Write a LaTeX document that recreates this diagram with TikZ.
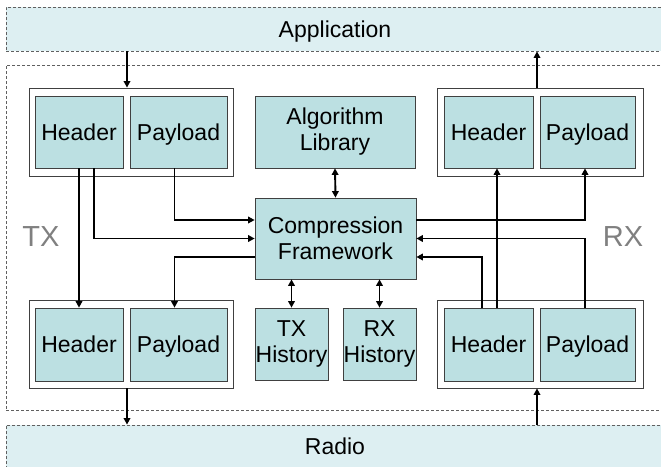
\documentclass[tikz,border=0pt]{standalone}
\usepackage{fontspec}
\setmainfont{Liberation Sans}
\usetikzlibrary{arrows.meta,calc}
\definecolor{boxfill}{HTML}{BCE0E2}
\definecolor{barfill}{HTML}{DDEFF2}
\definecolor{edgecol}{HTML}{404040}
\definecolor{dashcol}{HTML}{606060}
\definecolor{lblcol}{HTML}{808080}
\newcommand{\nodp}[1]{\raisebox{0pt}[\height][0pt]{#1}}
\begin{document}
\begin{tikzpicture}[x=1pt,y=-1pt,
  bar/.style={draw=dashcol, line width=0.8pt, dash pattern=on 3pt off 2pt, fill=barfill, inner sep=0pt, font=\fontsize{23}{26}\selectfont},
  frame/.style={draw=dashcol, line width=0.8pt, dash pattern=on 3pt off 2pt},
  grp/.style={draw=edgecol, fill=white, line width=0.8pt, inner sep=0pt},
  blk/.style={draw=edgecol, fill=boxfill, line width=0.7pt, inner sep=0pt, align=center, font=\fontsize{23}{26}\selectfont},
  side/.style={text=lblcol, font=\fontsize{29}{32}\selectfont, inner sep=0pt},
  conn/.style={line width=1.9pt, -{Triangle[length=6.5pt,width=6.5pt]}},
  both/.style={line width=1.9pt, {Triangle[length=6.5pt,width=6.5pt]}-{Triangle[length=6.5pt,width=6.5pt]}}]
\useasboundingbox (0,0) rectangle (661,466);
% bars and frame
\node[bar, minimum width=658pt, minimum height=44pt] (app) at (335,29) {\nodp{Application}};
\node[frame, minimum width=662pt, minimum height=345pt, inner sep=0pt] (outer) at (337,237.5) {};
\node[bar, minimum width=658pt, minimum height=43pt] (radio) at (335,446.5) {\nodp{Radio}};
% groups
\node[grp, minimum width=204pt, minimum height=88pt] (txg1) at (131,132) {};
\node[grp, minimum width=206pt, minimum height=88pt] (rxg1) at (540,132) {};
\node[grp, minimum width=204pt, minimum height=88pt] (txg2) at (131,344) {};
\node[grp, minimum width=206pt, minimum height=88pt] (rxg2) at (540,344) {};
% blocks
\node[blk, minimum width=88pt, minimum height=72pt] (th1) at (79,132) {\nodp{Header}};
\node[blk, minimum width=97pt, minimum height=72pt] (tp1) at (178.5,132) {\nodp{Payload}};
\node[blk, minimum width=160pt, minimum height=72pt] (alg) at (335,132) {Algorithm\\Library};
\node[blk, minimum width=89pt, minimum height=72pt] (rh1) at (488.5,132) {\nodp{Header}};
\node[blk, minimum width=95pt, minimum height=72pt] (rp1) at (587.5,132) {\nodp{Payload}};
\node[blk, minimum width=161pt, minimum height=81pt] (cf) at (335.5,238.5) {Compression\\Framework};
\node[blk, minimum width=88pt, minimum height=73pt] (th2) at (79,344.5) {\nodp{Header}};
\node[blk, minimum width=97pt, minimum height=73pt] (tp2) at (178.5,344.5) {\nodp{Payload}};
\node[blk, minimum width=73pt, minimum height=72pt] (txh) at (291.5,344) {TX\\History};
\node[blk, minimum width=73pt, minimum height=72pt] (rxh) at (379.5,344) {RX\\History};
\node[blk, minimum width=89pt, minimum height=73pt] (rh2) at (488.5,344.5) {\nodp{Header}};
\node[blk, minimum width=95pt, minimum height=73pt] (rp2) at (587.5,344.5) {\nodp{Payload}};
% side labels
\node[side] (txl) at (41,237) {TX};
\node[side] (rxl) at (623,237) {RX};
% connectors to/from bars
\coordinate (a1) at ([xshift=-4pt]txg1.north);
\coordinate (a2) at ([xshift=-3pt]rxg1.north);
\coordinate (a3) at ([xshift=-4pt]txg2.south);
\coordinate (a4) at ([xshift=-3pt]rxg2.south);
\draw[conn] (app.south -| a1) -- (a1);
\draw[conn] (a2) -- (app.south -| a2);
\draw[conn] (a3) -- (radio.north -| a3);
\draw[conn] (radio.north -| a4) -- (a4);
% TX side
\draw[conn] (th1.south) -- (th2.north);
\draw[conn] ([xshift=15pt]th1.south) |- (cf.west);
\draw[conn] ([xshift=-4pt]tp1.south) |- ([yshift=18.5pt]cf.west);
\draw[conn] ([yshift=-18.5pt]cf.west) -| ([xshift=-4pt]tp2.north);
% library and histories
\draw[both] (alg.south) -- (cf.north);
\draw[both] (cf.south -| txh.north) -- (txh.north);
\draw[both] (cf.south -| rxh.north) -- (rxh.north);
% RX side
\draw[conn] ([yshift=18.5pt]cf.east) -| ([xshift=-2.5pt]rp1.south);
\draw[conn] ([xshift=8.5pt]rh2.north) -- ([xshift=8.5pt]rh1.south);
\draw[conn] ([xshift=-2.5pt]rp2.north) |- (cf.east);
\draw[conn] ([xshift=-6.5pt]rh2.north) |- ([yshift=-18.5pt]cf.east);
\end{tikzpicture}
\end{document}
